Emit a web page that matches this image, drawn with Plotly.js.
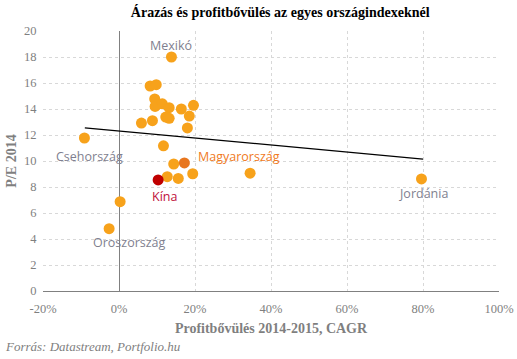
<!DOCTYPE html>
<html><head><meta charset="utf-8">
<script src="https://cdn.plot.ly/plotly-3.0.1.min.js"></script>
<style>html,body{margin:0;padding:0;background:#fff}#chart{width:517px;height:359px}</style>
</head><body><div id="chart"></div>
<script>
// Profit growth 2014-2015 CAGR (%) and P/E 2014 for country indices
const growth = [13.8, 8.2, 9.8, 9.4, 9.5, 11.4, 13.2, 16.4, 19.6, 18.5, 12.3, 13.2, 8.8, 5.9, 18.0,
                11.7, 14.4, 12.7, 15.6, 19.4, 0.3, 34.5, 17.2, 10.3, -2.6, -9.1, 79.6];
const pe     = [18.0, 15.77, 15.87, 14.77, 14.2, 14.4, 14.1, 14.0, 14.28, 13.46, 13.38, 13.28, 13.1, 12.92, 12.54,
                11.17, 9.77, 8.79, 8.66, 9.02, 6.87, 9.06, 9.85, 8.54, 4.79, 11.77, 8.62];
const names  = ["Mexikó", "", "", "", "", "", "", "", "", "", "", "", "", "", "",
                "", "", "", "", "", "", "", "Magyarország", "Kína", "Oroszország", "Csehország", "Jordánia"];
const trendX = [-9, 80];
const trendY = [12.55, 10.15];
const xTickVals = [-20, 0, 20, 40, 60, 80, 100];
const xTickText = ["-20%", "0%", "20%", "40%", "60%", "80%", "100%"];

const pointColor = names.map(n => n === "Magyarország" ? "#E8761E" : n === "Kína" ? "#C00000" : "#F7A21B");

const labelStyle = {
  "Mexikó":       {dx: 0,  dy: 12,  color: "#7F7F8F"},
  "Csehország":   {dx: 5,  dy: -19, color: "#7F7F8F"},
  "Oroszország":  {dx: 20, dy: -14, color: "#7F7F8F"},
  "Kína":         {dx: 6,  dy: -17, color: "#C0103C"},
  "Magyarország": {dx: 55, dy: 6,   color: "#F07A22"},
  "Jordánia":     {dx: 2,  dy: -15, color: "#7F7F8F"}
};

const annotations = [];
names.forEach((n, i) => {
  if (!n) return;
  const s = labelStyle[n];
  annotations.push({x: growth[i], y: pe[i], xref: 'x', yref: 'y', text: n, showarrow: false,
    xshift: s.dx, yshift: s.dy, font: {family: 'Open Sans, Liberation Sans, sans-serif', size: 12.5, color: s.color}});
});
annotations.push({xref: 'paper', yref: 'paper', x: -0.088, y: -0.212, xanchor: 'left', yanchor: 'middle',
  text: '<i>Forrás: Datastream, Portfolio.hu</i>', showarrow: false,
  font: {family: 'Liberation Serif, serif', size: 13, color: '#808080'}});

const data = [
  {x: trendX, y: trendY, mode: 'lines', type: 'scatter', line: {color: '#000', width: 1.3}, hoverinfo: 'skip'},
  {x: growth, y: pe, mode: 'markers', type: 'scatter', marker: {size: 11, color: pointColor}}
];

const layout = {
  width: 517, height: 359,
  margin: {l: 43, r: 18, t: 31, b: 68},
  showlegend: false,
  paper_bgcolor: '#fff', plot_bgcolor: '#fff',
  title: {text: '<b>Árazás és profitbővülés az egyes országindexeknél</b>', x: 0.542, xanchor: 'center', y: 0.965, yanchor: 'middle',
    font: {family: 'Liberation Serif, serif', size: 14, color: '#000'}},
  xaxis: {range: [-20, 100], tickvals: xTickVals, ticktext: xTickText, showgrid: true, gridcolor: '#d8d8d8', griddash: '3px,3px',
    zeroline: true, zerolinecolor: '#808080', zerolinewidth: 1, showline: false,
    ticks: 'outside', ticklen: 6, tickcolor: 'rgba(0,0,0,0)',
    tickfont: {family: 'Liberation Serif, serif', size: 12.5, color: '#7F7F7F'},
    title: {text: '<b>Profitbővülés 2014-2015, CAGR</b>', standoff: 8, font: {family: 'Liberation Serif, serif', size: 14, color: '#7F7F7F'}}},
  yaxis: {range: [0, 20], dtick: 2, showgrid: true, gridcolor: '#d8d8d8', griddash: '3px,3px',
    zeroline: true, zerolinecolor: '#808080', zerolinewidth: 1, showline: false,
    ticks: 'outside', ticklen: 3, tickcolor: 'rgba(0,0,0,0)',
    tickfont: {family: 'Liberation Serif, serif', size: 12.5, color: '#7F7F7F'},
    title: {text: '<b>P/E 2014</b>', standoff: 4, font: {family: 'Liberation Serif, serif', size: 14, color: '#7F7F7F'}}},
  annotations: annotations
};

Plotly.newPlot('chart', data, layout, {displayModeBar: false, staticPlot: true});
</script></body></html>
